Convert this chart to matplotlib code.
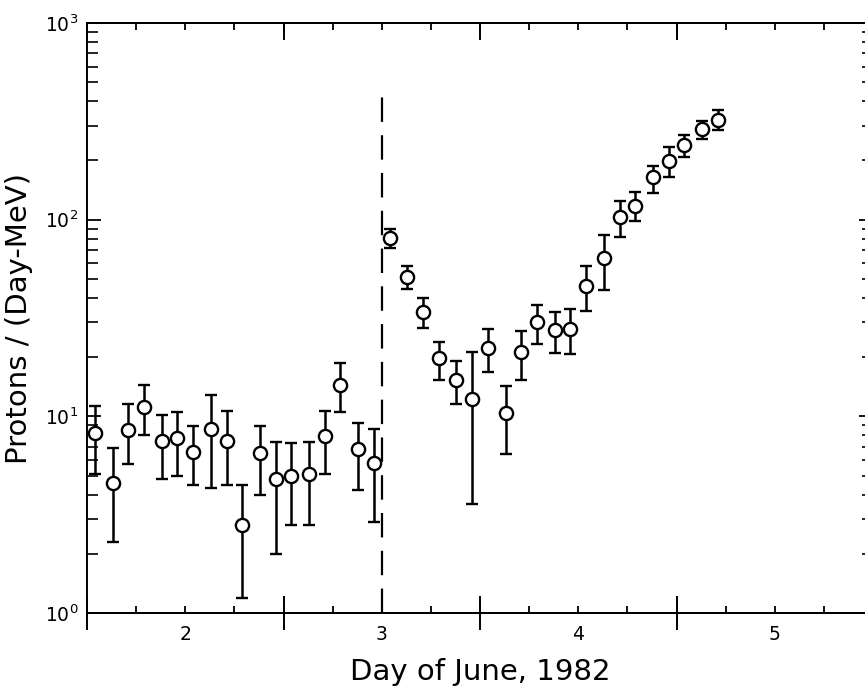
import numpy as np
import matplotlib
matplotlib.use("Agg")
import matplotlib.pyplot as plt
from matplotlib.ticker import MultipleLocator, FixedLocator, LogLocator, NullFormatter

# Two-hour proton counts, June 1982 (day of month, fractional)
day = [1.54, 1.63, 1.71, 1.79, 1.88, 1.96, 2.04, 2.13, 2.21, 2.29, 2.38, 2.46,
       2.54, 2.63, 2.71, 2.79, 2.88, 2.96,
       3.04, 3.13, 3.21, 3.29, 3.38, 3.46, 3.54, 3.63, 3.71, 3.79, 3.88, 3.96,
       4.04, 4.13, 4.21, 4.29, 4.38, 4.46, 4.54, 4.63, 4.71]
rate = [8.2, 4.6, 8.5, 11.2, 7.5, 7.8, 6.6, 8.6, 7.5, 2.8, 6.5, 4.8,
        5.0, 5.1, 7.9, 14.5, 6.8, 5.8,
        81, 51, 34, 19.7, 15.3, 12.3, 22.3, 10.4, 21.3, 30.1, 27.4, 27.8,
        46, 64, 103, 118, 164, 199, 239, 288, 321]
rate_hi = [11.3, 6.9, 11.5, 14.5, 10.1, 10.5, 8.9, 12.9, 10.6, 4.5, 8.9, 7.4,
           7.3, 7.4, 10.6, 18.6, 9.3, 8.6,
           90, 58, 40, 23.9, 19.1, 21.2, 27.8, 14.3, 27.1, 36.7, 34.0, 35.0,
           58, 84, 124, 138, 188, 233, 269, 318, 361]
rate_lo = [5.1, 2.3, 5.7, 8.0, 4.8, 5.0, 4.5, 4.3, 4.5, 1.19, 4.0, 2.0,
           2.8, 2.8, 5.1, 10.5, 4.2, 2.9,
           71.5, 44.4, 28.2, 15.3, 11.6, 3.6, 16.8, 6.4, 15.3, 23.3, 20.9, 20.7,
           34.3, 43.9, 82, 98, 136, 164, 209, 256, 285]

onset_day = 3.0
onset_top = 470

x_labels = ["2", "3", "4", "5"]
x_label_pos = [2, 3, 4, 5]
half_days = [1.5, 2.5, 3.5, 4.5, 5.5]

rate = np.array(rate)
yerr = [rate - np.array(rate_lo), np.array(rate_hi) - rate]

fig = plt.figure(figsize=(8.65, 6.88), dpi=100)
ax = fig.add_axes([87 / 865, 75 / 688, (873 - 87) / 865, (613 - 23) / 688])

ax.set_yscale("log")
ax.set_xlim(1.5, 5.5)
ax.set_ylim(1, 1000)

ax.errorbar(day, rate, yerr=yerr, fmt="o", ms=9.5, mfc="white", mec="black",
            mew=1.7, ecolor="black", elinewidth=1.8, capsize=4.3, capthick=1.8,
            color="black", zorder=3)

ax.vlines(onset_day, 1, onset_top, colors="black", linewidth=1.6,
          linestyles=(0, (11, 6)), zorder=2)

for s in ax.spines.values():
    s.set_linewidth(1.4)

# x ticks: labelled integer days, quarter-day minor ticks
ax.xaxis.set_major_locator(FixedLocator(x_label_pos))
ax.set_xticklabels(x_labels)
ax.xaxis.set_minor_locator(MultipleLocator(0.25))
ax.tick_params(axis="x", which="both", direction="in", length=5, width=1.3,
               top=True, labelsize=13.5, pad=9)

# y ticks: decades with minor ticks, both sides
ax.yaxis.set_major_locator(LogLocator(base=10, numticks=10))
ax.yaxis.set_minor_locator(LogLocator(base=10, subs=np.arange(2, 10), numticks=10))
ax.yaxis.set_minor_formatter(NullFormatter())
ax.tick_params(axis="y", which="major", direction="in", length=10, width=1.3,
               right=True, labelsize=13.5, pad=6)
ax.tick_params(axis="y", which="minor", direction="in", length=8, width=1.2,
               right=True)

# long half-day ticks
sec_b = ax.secondary_xaxis("bottom")
sec_b.set_xticks(half_days)
sec_b.tick_params(direction="inout", length=24, width=1.4, labelbottom=False)
sec_b.spines["bottom"].set_linewidth(1.4)
sec_t = ax.secondary_xaxis("top")
sec_t.set_xticks(half_days)
sec_t.tick_params(direction="in", length=12, width=1.4, labeltop=False)
sec_t.spines["top"].set_linewidth(1.4)

ax.set_xlabel("Day of June, 1982", fontsize=21, labelpad=10)
ax.set_ylabel("Protons / (Day-MeV)", fontsize=21, labelpad=9)

fig.savefig("out.png", dpi=100)
